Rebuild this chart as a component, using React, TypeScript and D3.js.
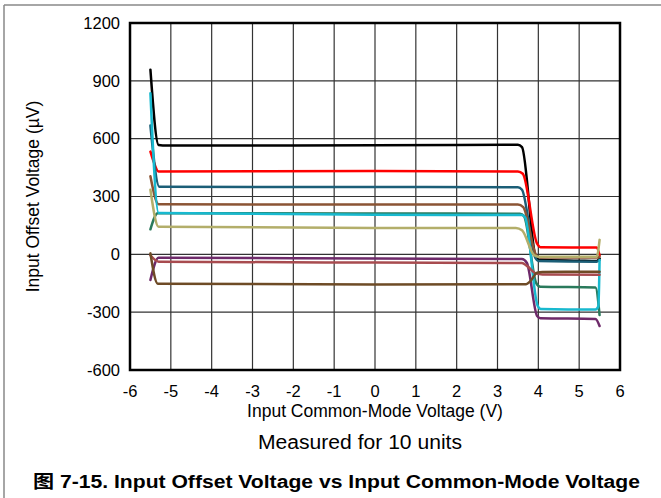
import React from "react";
import * as d3 from "d3";

const xTicks = [-6, -5, -4, -3, -2, -1, 0, 1, 2, 3, 4, 5, 6];
const yTicks = [-600, -300, 0, 300, 600, 900, 1200];

const unitNames = ["u1", "u2", "u3", "u4", "u5", "u6", "u7", "u8", "u9", "u10"];
const unitColors = ["#000000", "#ff0000", "#1b5e77", "#8b5434", "#2a7a5c", "#18b9cf", "#b3ae6a", "#6e2a6a", "#a84b4f", "#6e4b26"];

// [Vcm (V), Vos (µV)]
const u1: [number, number][] = [[-5.5, 958], [-5.3, 567], [-5.2, 565], [-2, 565], [0, 566], [2, 567], [3.5, 568], [3.6, 556], [3.93, -10], [4.0, -28], [5.0, -33], [5.43, -35], [5.5, -22]];
const u2: [number, number][] = [[-5.5, 533], [-5.42, 480], [-5.3, 430], [0, 432], [3.5, 430], [3.62, 418], [3.97, 55], [4.05, 37], [5.43, 35], [5.5, -5]];
const u3: [number, number][] = [[-5.5, 668], [-5.28, 350], [0, 349], [3.5, 348], [3.6, 335], [3.93, -20], [4.0, -35], [5.43, -38], [5.5, -30]];
const u4: [number, number][] = [[-5.5, 405], [-5.3, 260], [0, 258], [3.5, 258], [3.63, 245], [3.95, -5], [4.05, -17], [5.45, -17], [5.5, -12]];
const u5: [number, number][] = [[-5.5, 130], [-5.32, 213], [0, 212], [3.55, 211], [3.65, 198], [3.95, -150], [4.05, -168], [5.4, -172], [5.5, -315]];
const u6: [number, number][] = [[-5.5, 835], [-5.3, 215], [0, 205], [3.6, 204], [3.68, 190], [3.98, -265], [4.06, -283], [5.4, -286], [5.47, -270], [5.5, -30]];
const u7: [number, number][] = [[-5.5, 335], [-5.3, 143], [0, 137], [3.45, 137], [3.6, 125], [3.9, -5], [4.0, -12], [5.43, -12], [5.5, 75]];
const u8: [number, number][] = [[-5.5, -133], [-5.3, -18], [0, -22], [3.6, -24], [3.72, -45], [3.97, -320], [4.05, -331], [5.4, -335], [5.5, -372]];
const u9: [number, number][] = [[-5.5, -5], [-5.3, -38], [0, -43], [3.6, -45], [3.72, -60], [3.95, -100], [4.1, -104], [5.5, -106]];
const u10: [number, number][] = [[-5.5, 5], [-5.32, -152], [0, -157], [3.7, -155], [3.8, -140], [3.97, -95], [4.1, -91], [5.5, -90]];

const unitData = [u1, u2, u3, u4, u5, u6, u7, u8, u9, u10];

const W = 661;
const H = 498;
const L = 130, T = 23, R = 620, B = 370;
const FONT = "Arial, 'Liberation Sans', Helvetica, sans-serif";

export default function App() {
  const x = d3.scaleLinear().domain([-6, 6]).range([L, R]);
  const y = d3.scaleLinear().domain([-600, 1200]).range([B, T]);
  const line = d3
    .line<[number, number]>()
    .x((d) => x(d[0]))
    .y((d) => y(d[1]))
    .curve(d3.curveMonotoneX);

  return (
    <svg width={W} height={H} style={{ position: "absolute", left: 0, top: 0, background: "#fff" }} fontFamily={FONT}>
      <rect x={0} y={0} width={W} height={H} fill="#fff" />
      {/* outer frame */}
      <line x1={4} x2={W} y1={5} y2={5} stroke="#888" strokeWidth={1.5} />
      <line x1={4} x2={4} y1={5} y2={H} stroke="#888" strokeWidth={1.5} />

      {/* grid */}
      {xTicks.slice(1, -1).map((t) => (
        <line key={"vx" + t} x1={x(t)} x2={x(t)} y1={T} y2={B} stroke="#333" strokeWidth={1.2} />
      ))}
      {yTicks.slice(1, -1).map((t) => (
        <line key={"hy" + t} x1={L} x2={R} y1={y(t)} y2={y(t)} stroke="#333" strokeWidth={1.2} />
      ))}

      {/* series */}
      {unitData.map((d, i) => (
        <path key={unitNames[i]} d={line(d) || ""} fill="none" stroke={unitColors[i]} strokeWidth={2.5} strokeLinejoin="round" strokeLinecap="round" />
      ))}

      {/* plot border */}
      <rect x={L} y={T} width={R - L} height={B - T} fill="none" stroke="#000" strokeWidth={2.5} />

      {/* tick labels */}
      {yTicks.map((t) => (
        <text key={"yl" + t} x={L - 10} y={y(t)} dy="0.35em" textAnchor="end" fontSize={16.5} fill="#000">
          {t}
        </text>
      ))}
      {xTicks.map((t) => (
        <text key={"xl" + t} x={x(t)} y={397} textAnchor="middle" fontSize={16.5} fill="#000">
          {t}
        </text>
      ))}

      {/* axis titles */}
      <text x={(L + R) / 2} y={417} textAnchor="middle" fontSize={17.5} fill="#000">
        Input Common-Mode Voltage (V)
      </text>
      <text transform={`translate(39,${(T + B) / 2}) rotate(-90)`} textAnchor="middle" fontSize={17.5} fill="#000">
        Input Offset Voltage (µV)
      </text>

      <text x={360} y={449} textAnchor="middle" fontSize={20} fill="#000" textLength={204} lengthAdjust="spacingAndGlyphs">
        Measured for 10 units
      </text>
      <text x={33} y={488} fontSize={18} fontWeight="bold" fill="#000" textLength={607} lengthAdjust="spacingAndGlyphs">
        <tspan fontFamily="'Noto Sans CJK SC', sans-serif">图</tspan> 7-15. Input Offset Voltage vs Input Common-Mode Voltage
      </text>
    </svg>
  );
}
